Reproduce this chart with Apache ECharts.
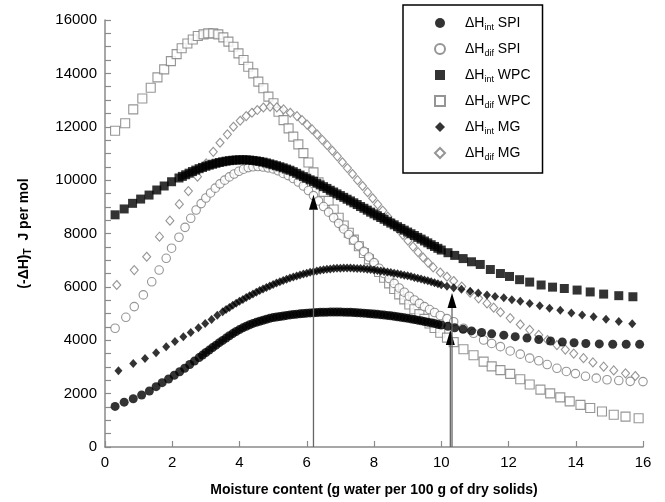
<!DOCTYPE html>
<html>
<head>
<meta charset="utf-8">
<script src="https://cdn.jsdelivr.net/npm/echarts@6/dist/echarts.min.js"></script>
<style>
html, body { margin: 0; padding: 0; background: #fff; }
#chart { width: 665px; height: 502px; }
</style>
</head>
<body>
<div id="chart"></div>
<script>
// Integral and differential heats of sorption, (-ΔH)T in J per mol,
// against moisture content (g water per 100 g of dry solids).
const spiInt = [[0.3,1520],[0.57,1680],[0.84,1810],[1.09,1950],[1.32,2100],[1.52,2260],[1.70,2410],[1.89,2550],[2.06,2690],[2.22,2820],[2.37,2950],[2.52,3090],[2.66,3220],
  [2.8,3350],[2.9,3445],[3.0,3540],[3.1,3630],[3.2,3725],[3.3,3815],[3.4,3910],[3.5,3995],[3.6,4080],[3.7,4170],[3.8,4250],[3.9,4330],
  [4.0,4400],[4.1,4465],[4.2,4525],[4.3,4580],[4.4,4630],[4.5,4670],[4.6,4710],[4.7,4750],[4.8,4785],[4.9,4820],
  [5.0,4850],[5.1,4870],[5.2,4890],[5.3,4910],[5.4,4930],[5.5,4950],[5.6,4965],[5.7,4978],[5.8,4990],[5.9,5003],
  [6.0,5015],[6.1,5025],[6.2,5032],[6.3,5038],[6.4,5045],[6.5,5048],[6.6,5052],[6.7,5055],[6.8,5055],[6.9,5055],
  [7.0,5055],[7.1,5052],[7.2,5048],[7.3,5045],[7.4,5038],[7.5,5032],[7.6,5025],[7.7,5015],[7.8,5005],[7.9,4995],
  [8.0,4985],[8.1,4973],[8.2,4960],[8.3,4947],[8.4,4932],[8.5,4915],[8.6,4898],[8.7,4880],[8.8,4860],[8.9,4840],
  [9.0,4820],[9.1,4800],[9.2,4777],[9.3,4753],[9.4,4730],[9.5,4703],[9.6,4677],[9.7,4650],[9.8,4623],[9.9,4597],
  [10.0,4570],[10.2,4520],[10.4,4470],[10.65,4410],[10.9,4350],[11.2,4290],[11.5,4240],[11.86,4190],[12.2,4135],[12.55,4080],[12.9,4025],[13.25,3970],[13.6,3935],[13.95,3905],[14.3,3880],[14.7,3862],[15.1,3852],[15.5,3848],[15.9,3846]];

const spiDif = [[0.3,4450],[0.62,4860],[0.87,5260],[1.14,5700],[1.39,6190],[1.61,6630],[1.82,7070],[1.98,7450],[2.2,7860],[2.38,8230],[2.55,8570],[2.71,8880],[2.86,9120],
  [3.0,9330],[3.14,9520],[3.28,9700],[3.42,9860],[3.56,10000],[3.7,10120],[3.84,10230],[3.98,10330],[4.12,10410],[4.26,10470],[4.4,10500],
  [4.55,10510],[4.7,10490],[4.85,10460],[5.0,10420],[5.15,10350],[5.3,10250],[5.45,10170],[5.6,10060],[5.75,9930],[5.9,9780],
  [6.05,9610],[6.2,9420],[6.35,9220],[6.5,9010],[6.65,8800],[6.8,8590],[6.95,8380],[7.1,8170],[7.25,7960],[7.4,7750],
  [7.55,7540],[7.7,7330],[7.85,7120],[8.0,6910],[8.15,6700],[8.3,6500],[8.45,6310],[8.6,6130],[8.75,5960],[8.9,5800],
  [9.05,5650],[9.2,5510],[9.35,5380],[9.5,5260],[9.65,5150],[9.8,5040],[9.97,4930],[10.17,4810],[10.37,4695],
  [10.66,4450],[10.96,4260],[11.26,4010],[11.5,3880],[11.76,3760],[12.05,3600],[12.35,3480],[12.63,3330],[12.9,3230],[13.15,3090],[13.44,2950],[13.72,2830],[13.99,2750],[14.29,2650],[14.61,2580],[14.93,2520],[15.28,2490],[15.62,2460],[16.0,2450]];

const wpcInt = [[0.3,8700],[0.57,8920],[0.82,9130],[1.06,9290],[1.31,9440],[1.54,9630],[1.76,9780],[1.98,9940],
  [2.2,10080],[2.3,10140],[2.4,10200],[2.5,10260],[2.6,10320],[2.7,10375],[2.8,10430],[2.9,10475],
  [3.0,10520],[3.1,10560],[3.2,10595],[3.3,10630],[3.4,10660],[3.5,10688],[3.6,10710],[3.7,10730],[3.8,10745],[3.9,10755],
  [4.0,10760],[4.1,10762],[4.2,10760],[4.3,10750],[4.4,10737],[4.5,10720],[4.6,10700],[4.7,10675],[4.8,10645],[4.9,10610],
  [5.0,10575],[5.1,10540],[5.2,10500],[5.3,10460],[5.4,10415],[5.5,10370],[5.6,10315],[5.7,10255],[5.8,10190],[5.9,10130],
  [6.0,10070],[6.1,10010],[6.2,9950],[6.3,9885],[6.4,9820],[6.5,9755],[6.6,9690],[6.7,9620],[6.8,9555],[6.9,9485],
  [7.0,9420],[7.1,9355],[7.2,9285],[7.3,9220],[7.4,9150],[7.5,9085],[7.6,9010],[7.7,8945],[7.8,8875],[7.9,8800],
  [8.0,8735],[8.1,8665],[8.2,8600],[8.3,8535],[8.4,8460],[8.5,8390],[8.6,8325],[8.7,8255],[8.8,8190],[8.9,8125],
  [9.0,8055],[9.1,7990],[9.2,7925],[9.3,7855],[9.4,7790],[9.5,7720],[9.6,7650],[9.7,7580],[9.8,7515],[9.9,7445],
  [10.0,7380],[10.2,7280],[10.4,7180],[10.65,7060],[10.9,6940],[11.16,6840],[11.46,6650],[11.76,6500],[12.03,6390],[12.33,6270],[12.63,6180],[12.97,6070],[13.31,5990],[13.66,5940],[14.04,5880],[14.43,5810],[14.83,5730],[15.28,5670],[15.7,5630]];

const wpcDif = [[0.3,11850],[0.6,12130],[0.84,12650],[1.11,13060],[1.36,13460],[1.56,13850],[1.76,14150],[1.96,14460],[2.13,14720],[2.28,14940],[2.45,15120],[2.61,15270],[2.76,15400],[2.93,15460],
  [3.07,15500],[3.22,15500],[3.37,15460],[3.52,15350],[3.67,15190],[3.82,15000],[3.97,14750],[4.12,14500],[4.26,14250],[4.41,14000],
  [4.56,13690],[4.71,13440],[4.86,13130],[5.01,12880],[5.16,12560],[5.31,12250],[5.46,11940],[5.6,11630],[5.75,11340],[5.9,11010],
  [6.05,10660],[6.2,10290],[6.35,9920],[6.5,9560],[6.65,9220],[6.8,8900],[6.95,8590],[7.1,8300],[7.25,8030],[7.4,7770],
  [7.55,7520],[7.7,7270],[7.85,7030],[8.0,6790],[8.15,6560],[8.3,6340],[8.45,6130],[8.6,5920],[8.75,5720],[8.9,5530],
  [9.05,5340],[9.2,5160],[9.35,4980],[9.5,4800],[9.65,4630],[9.8,4460],[9.97,4280],[10.17,4100],[10.37,3930],
  [10.66,3660],[10.96,3440],[11.26,3200],[11.5,3020],[11.76,2880],[12.05,2740],[12.35,2540],[12.63,2340],[12.95,2150],[13.24,2010],[13.54,1860],[13.82,1710],[14.14,1580],[14.43,1460],[14.78,1330],[15.13,1210],[15.48,1140],[15.87,1080]];

const mgInt = [[0.4,2860],[0.84,3130],[1.19,3320],[1.52,3530],[1.82,3760],[2.08,3950],[2.33,4130],[2.55,4290],[2.78,4470],[2.98,4630],[3.17,4780],[3.34,4940],
  [3.5,5070],[3.6,5150],[3.7,5230],[3.8,5310],[3.9,5385],[4.0,5460],[4.1,5530],[4.2,5600],[4.3,5665],[4.4,5730],[4.5,5795],[4.6,5860],[4.7,5920],[4.8,5980],[4.9,6035],
  [5.0,6090],[5.1,6145],[5.2,6195],[5.3,6240],[5.4,6287],[5.5,6330],[5.6,6370],[5.7,6410],[5.8,6447],[5.9,6480],
  [6.0,6515],[6.1,6545],[6.2,6570],[6.3,6597],[6.4,6620],[6.5,6640],[6.6,6657],[6.7,6672],[6.8,6685],[6.9,6695],
  [7.0,6702],[7.1,6705],[7.2,6705],[7.3,6704],[7.4,6700],[7.5,6693],[7.6,6685],[7.7,6675],[7.8,6662],[7.9,6647],
  [8.0,6630],[8.1,6613],[8.2,6597],[8.3,6580],[8.4,6560],[8.5,6538],[8.6,6515],[8.7,6492],[8.8,6467],[8.9,6440],
  [9.0,6413],[9.1,6385],[9.2,6355],[9.3,6325],[9.4,6293],[9.5,6260],[9.6,6227],[9.7,6193],[9.8,6155],[9.9,6115],
  [10.0,6075],[10.17,6020],[10.37,5970],[10.6,5910],[10.86,5840],[11.1,5770],[11.36,5700],[11.6,5640],[11.86,5590],[12.1,5520],[12.35,5460],[12.63,5380],[12.93,5290],[13.22,5200],[13.54,5120],[13.87,5020],[14.19,4950],[14.53,4880],[14.9,4790],[15.28,4700],[15.68,4620]];

const mgDif = [[0.35,6070],[0.87,6630],[1.24,7130],[1.62,7880],[1.93,8480],[2.21,9100],[2.48,9590],[2.75,10130],[3.01,10630],[3.22,11060],[3.42,11400],[3.64,11715],[3.82,12000],
  [4.02,12225],[4.2,12400],[4.37,12525],[4.53,12626],[4.71,12720],[4.91,12750],[5.11,12727],[5.31,12650],[5.51,12525],[5.71,12400],
  [5.86,12250],[6.01,12080],[6.16,11900],[6.31,11710],[6.46,11510],[6.61,11310],[6.76,11100],[6.91,10890],[7.06,10670],[7.21,10450],
  [7.36,10230],[7.51,10000],[7.66,9780],[7.81,9550],[7.96,9320],[8.11,9090],[8.26,8860],[8.41,8630],[8.56,8400],[8.71,8170],
  [8.86,7950],[9.01,7730],[9.16,7510],[9.31,7300],[9.46,7100],[9.61,6910],[9.76,6730],[9.97,6540],[10.17,6380],[10.37,6220],
  [10.61,6010],[10.86,5780],[11.11,5570],[11.36,5380],[11.56,5220],[11.76,5050],[12.05,4830],[12.35,4590],[12.63,4390],[12.9,4200],[13.16,4010],[13.44,3820],[13.69,3650],[13.94,3500],[14.23,3330],[14.51,3170],[14.83,3010],[15.13,2870],[15.48,2760],[15.77,2660]];

// Vertical arrows marking the moisture contents of interest
const arrowX = [6.2, 10.27, 10.32];
const arrowTop = [9450, 4380, 5770];

const seriesNames = ['ΔHint SPI', 'ΔHdif SPI', 'ΔHint WPC', 'ΔHdif WPC', 'ΔHint MG', 'ΔHdif MG'];

const FONT = "'Liberation Sans', Arial, Helvetica, sans-serif";
const GREY = '#7a7a7a';
const AXIS = '#8a8a8a';

function openStyle() {
  return { color: '#fff', borderColor: GREY, borderWidth: 1.1 };
}
function filledStyle() {
  return { color: '#000', borderColor: '#000', borderWidth: 0 };
}

const chart = echarts.init(document.getElementById('chart'), null, { renderer: 'canvas' });

chart.setOption({
  animation: false,
  backgroundColor: '#fff',
  textStyle: { fontFamily: FONT },
  grid: { left: 105, right: 22, top: 20, bottom: 55, containLabel: false },
  xAxis: {
    type: 'value',
    min: 0, max: 16, interval: 2,
    name: 'Moisture content (g water per 100 g of dry solids)',
    nameLocation: 'middle',
    nameGap: 36,
    nameTextStyle: { fontFamily: FONT, fontWeight: 'bold', fontSize: 14, color: '#000' },
    axisLine: { show: true, lineStyle: { color: AXIS, width: 1.5 } },
    axisTick: { show: true, inside: true, length: 6, lineStyle: { color: AXIS, width: 1.2 } },
    splitLine: { show: false },
    axisLabel: { color: '#000', fontSize: 15, fontFamily: FONT, margin: 8 }
  },
  yAxis: {
    type: 'value',
    min: 0, max: 16000, interval: 2000,
    name: '{a|(-ΔH)}{s|T}{a|  J per mol}',
    nameLocation: 'middle',
    nameGap: 72,
    nameTextStyle: {
      fontFamily: FONT, fontWeight: 'bold', fontSize: 14, color: '#000',
      rich: {
        a: { fontFamily: FONT, fontWeight: 'bold', fontSize: 14, color: '#000' },
        s: { fontFamily: FONT, fontWeight: 'bold', fontSize: 10, color: '#000', padding: [8, 0, 0, 0] }
      }
    },
    axisLine: { show: true, lineStyle: { color: AXIS, width: 1.5 } },
    axisTick: { show: true, inside: true, length: 6, lineStyle: { color: AXIS, width: 1.2 } },
    minorTick: { show: true, splitNumber: 4, length: 6, lineStyle: { color: AXIS, width: 1.2 } },
    splitLine: { show: false },
    axisLabel: {
      color: '#000', fontSize: 15, fontFamily: FONT, margin: 8,
      formatter: function (v) { return String(v); }
    }
  },
  legend: {
    data: seriesNames,
    orient: 'vertical',
    left: 403,
    top: 5,
    padding: [11, 12, 11, 31],
    itemGap: 10,
    itemWidth: 10,
    itemHeight: 10,
    borderColor: '#000',
    borderWidth: 1.5,
    backgroundColor: '#fff',
    selectedMode: false,
    formatter: function (name) {
      const m = name.match(/^ΔH(int|dif) (.+)$/);
      return '{a|ΔH}{s|' + m[1] + '}{a| ' + m[2] + '}';
    },
    textStyle: {
      padding: [0, 0, 0, 15],
      rich: {
        a: { fontFamily: FONT, fontSize: 14, color: '#000' },
        s: { fontFamily: FONT, fontSize: 9, color: '#000', padding: [9, 0, 0, 0] }
      }
    }
  },
  series: [
    { name: 'ΔHdif WPC', type: 'scatter', data: wpcDif, symbol: 'rect', symbolSize: 9, itemStyle: openStyle(), z: 2 },
    { name: 'ΔHdif SPI', type: 'scatter', data: spiDif, symbol: 'circle', symbolSize: 8.5, itemStyle: openStyle(), z: 2 },
    { name: 'ΔHdif MG', type: 'scatter', data: mgDif, symbol: 'diamond', symbolSize: [8, 9], itemStyle: openStyle(), z: 2 },
    { name: 'ΔHint SPI', type: 'scatter', data: spiInt, symbol: 'circle', symbolSize: 9, itemStyle: filledStyle(), z: 3 },
    { name: 'ΔHint WPC', type: 'scatter', data: wpcInt, symbol: 'rect', symbolSize: 9, itemStyle: filledStyle(), z: 3 },
    { name: 'ΔHint MG', type: 'scatter', data: mgInt, symbol: 'diamond', symbolSize: [8, 9], itemStyle: filledStyle(), z: 3 },
    {
      name: 'arrows',
      type: 'custom',
      silent: true,
      z: 4,
      data: arrowX.map(function (x, i) { return [x, arrowTop[i]]; }),
      renderItem: function (params, api) {
        const base = api.coord([api.value(0), 0]);
        const tip = api.coord([api.value(0), api.value(1)]);
        const headH = 15, headW = 4.5;
        return {
          type: 'group',
          children: [
            { type: 'line', shape: { x1: base[0], y1: base[1], x2: tip[0], y2: tip[1] + headH },
              style: { stroke: '#666', lineWidth: 1.3 } },
            { type: 'polygon', shape: { points: [[tip[0], tip[1]], [tip[0] - headW, tip[1] + headH], [tip[0] + headW, tip[1] + headH]] },
              style: { fill: '#000' } }
          ]
        };
      }
    }
  ]
});
</script>
</body>
</html>
